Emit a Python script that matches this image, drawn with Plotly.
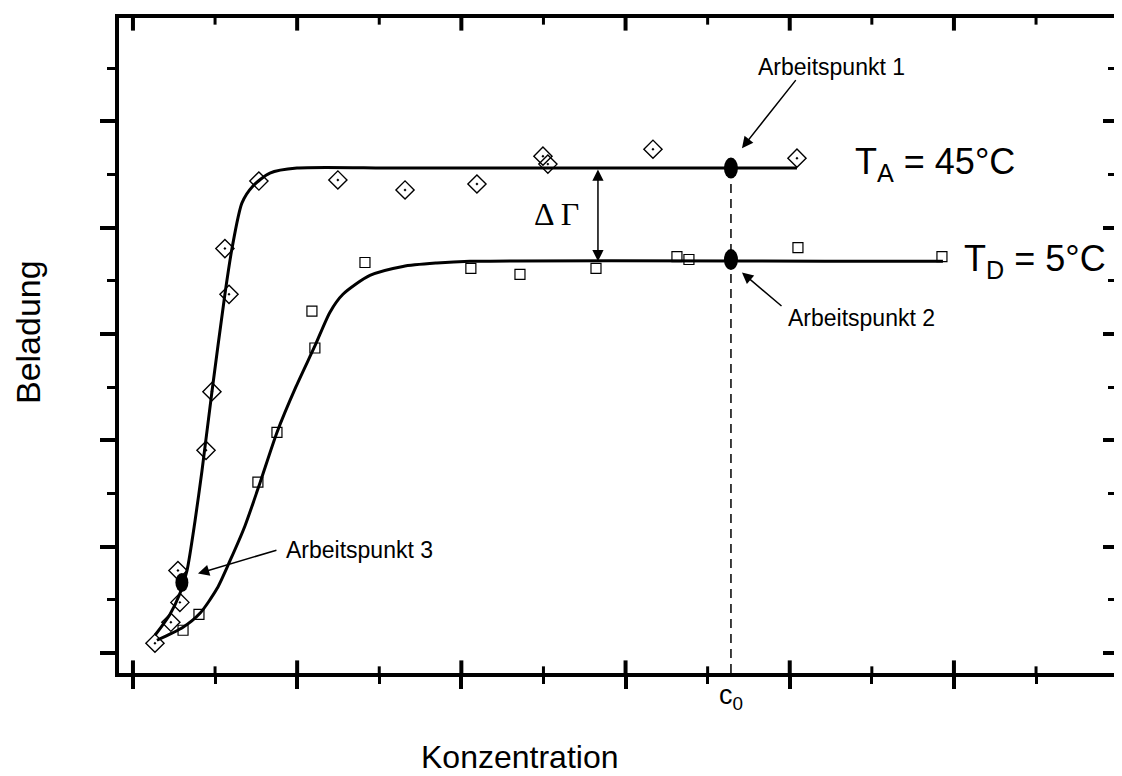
import plotly.graph_objects as go

# ---------------- data (axis units: one major tick = 1) ----------------
diamond_x = [0.134, 0.231, 0.286, 0.274, 0.445, 0.481, 0.585, 0.560, 0.767,
             1.248, 1.657, 2.095, 2.497, 2.527, 3.167, 4.044]
diamond_y = [0.093, 0.290, 0.477, 0.776, 1.907, 2.458, 3.374, 3.804, 4.439,
             4.449, 4.355, 4.411, 4.673, 4.598, 4.738, 4.654]

square_x = [0.305, 0.402, 0.761, 0.877, 1.090, 1.108, 1.413, 2.058, 2.357,
            2.820, 3.313, 3.386, 4.050, 4.927]
square_y = [0.215, 0.364, 1.607, 2.075, 3.215, 2.869, 3.673, 3.617, 3.561,
            3.617, 3.729, 3.701, 3.813, 3.729]

fitA_x = [0.134, 0.225, 0.286, 0.329, 0.378, 0.420, 0.481, 0.560, 0.603,
          0.664, 0.731, 0.834, 0.999, 1.626, 4.044]
fitA_y = [0.168, 0.364, 0.561, 0.776, 1.243, 1.710, 2.458, 3.374, 3.804,
          4.234, 4.393, 4.514, 4.561, 4.561, 4.561]

fitD_x = [0.146, 0.305, 0.408, 0.512, 0.591, 0.682, 0.773, 0.877, 0.993,
          1.108, 1.200, 1.279, 1.443, 1.644, 1.851, 2.052, 4.933]
fitD_y = [0.121, 0.243, 0.374, 0.607, 0.869, 1.196, 1.598, 2.075, 2.505,
          2.888, 3.206, 3.374, 3.551, 3.636, 3.668, 3.684, 3.684]

plateau_A = 4.561
plateau_D = 3.684
c0 = 3.642

op_x = [c0, c0, 0.298]
op_y = [plateau_A, 3.70, 0.664]
op_labels = ["Arbeitspunkt 1", "Arbeitspunkt 2", "Arbeitspunkt 3"]
op_label_x = [4.257, 4.434, 1.382]
op_label_y = [5.509, 3.150, 0.972]
op_arrow_tail_x = [4.044, 3.959, 0.883]
op_arrow_tail_y = [5.402, 3.252, 0.972]
op_arrow_head_x = [3.709, 3.709, 0.396]
op_arrow_head_y = [4.748, 3.579, 0.748]
op_w = [14, 14, 13]
op_h = [21, 21, 19]

delta_x = 2.832
delta_label = (2.582, 4.131)

x_range = [-0.085, 5.987]
y_range = [-0.187, 5.972]
x_major_ticks = [0, 1, 2, 3, 4, 5]
x_minor_ticks = [0.5, 1.5, 2.5, 3.5, 4.5, 5.5]

FONT = "Arial, Liberation Sans, sans-serif"

fig = go.Figure()

fig.add_trace(go.Scatter(x=fitA_x, y=fitA_y, mode="lines",
                         line=dict(color="black", width=3, shape="spline", smoothing=0.7),
                         showlegend=False, hoverinfo="skip"))
fig.add_trace(go.Scatter(x=fitD_x, y=fitD_y, mode="lines",
                         line=dict(color="black", width=3, shape="spline", smoothing=0.7),
                         showlegend=False, hoverinfo="skip"))
fig.add_trace(go.Scatter(x=diamond_x, y=diamond_y, mode="markers",
                         marker=dict(symbol="diamond-open-dot", size=14, color="black",
                                     line=dict(width=1.4, color="black")),
                         showlegend=False))
fig.add_trace(go.Scatter(x=square_x, y=square_y, mode="markers",
                         marker=dict(symbol="square-open", size=10, color="black",
                                     line=dict(width=1.2, color="black")),
                         showlegend=False))

# inward tick marks on the top and bottom frame (half of each marker is clipped
# by the plot area, so only the inner half shows)
for ticks_, size_, width_ in [(x_major_ticks, 18, 4), (x_minor_ticks, 9.5, 3)]:
    fig.add_trace(go.Scatter(
        x=ticks_ + ticks_,
        y=[y_range[1]] * len(ticks_) + [y_range[0]] * len(ticks_),
        mode="markers", cliponaxis=True,
        marker=dict(symbol="line-ns", size=size_, color="black",
                    line=dict(width=width_, color="black")),
        showlegend=False, hoverinfo="skip"))

# invisible helper trace so that the right-hand tick axis gets drawn
fig.add_trace(go.Scatter(x=x_range, y=y_range, xaxis="x", yaxis="y2", mode="markers",
                         marker=dict(opacity=0), showlegend=False, hoverinfo="skip"))

shapes = []
# dashed vertical line at c0
shapes.append(dict(type="line", xref="x", yref="y", x0=c0, x1=c0,
                   y0=y_range[0], y1=op_y[0],
                   line=dict(color="black", width=1.5, dash="9px,6px")))
# operating points (filled ellipses)
for i in range(3):
    shapes.append(dict(type="circle", xref="x", yref="y",
                       xsizemode="pixel", ysizemode="pixel",
                       xanchor=op_x[i], yanchor=op_y[i],
                       x0=-op_w[i] / 2, x1=op_w[i] / 2,
                       y0=-op_h[i] / 2, y1=op_h[i] / 2,
                       fillcolor="black", line=dict(width=0), layer="above"))

annotations = []
for i in range(3):
    annotations.append(dict(x=op_arrow_head_x[i], y=op_arrow_head_y[i],
                            ax=op_arrow_tail_x[i], ay=op_arrow_tail_y[i],
                            xref="x", yref="y", axref="x", ayref="y",
                            text="", showarrow=True, arrowhead=2, arrowsize=1.5,
                            arrowwidth=1.5, arrowcolor="black", standoff=0))
    annotations.append(dict(x=op_label_x[i], y=op_label_y[i], xref="x", yref="y",
                            xanchor="center", yanchor="middle",
                            text=op_labels[i], showarrow=False,
                            font=dict(family=FONT, size=23, color="black")))

# double arrow Delta Gamma
annotations.append(dict(x=delta_x, y=plateau_D, ax=delta_x, ay=plateau_A,
                        xref="x", yref="y", axref="x", ayref="y",
                        text="", showarrow=True, arrowhead=2, arrowside="end+start",
                        arrowsize=1.5, arrowwidth=1.5, arrowcolor="black", standoff=0,
                        startstandoff=0, startarrowhead=2, startarrowsize=1.5))
annotations.append(dict(x=delta_label[0], y=delta_label[1], xref="x", yref="y",
                        xanchor="center", yanchor="middle",
                        text="\u0394 \u0393", showarrow=False,
                        font=dict(family="Liberation Serif, Times New Roman, serif",
                                  size=32, color="black")))

# temperature labels
annotations.append(dict(x=4.385, y=4.60, xref="x", yref="y", xanchor="left",
                        yanchor="middle",
                        text="T<sub>A</sub> = 45°C", showarrow=False,
                        font=dict(family=FONT, size=36, color="black")))
annotations.append(dict(x=5.049, y=3.69, xref="x", yref="y", xanchor="left",
                        yanchor="middle",
                        text="T<sub>D</sub> = 5°C", showarrow=False,
                        font=dict(family=FONT, size=36, color="black")))

# c0 label
annotations.append(dict(x=c0, y=-0.036, xref="x", yref="paper",
                        xanchor="center", yanchor="middle",
                        text="c<sub>0</sub>", showarrow=False,
                        font=dict(family=FONT, size=27, color="black")))

# axis titles
annotations.append(dict(x=0.4022, y=-0.1275, xref="paper", yref="paper",
                        xanchor="center", yanchor="middle",
                        text="Konzentration", showarrow=False,
                        font=dict(family=FONT, size=32, color="black")))
annotations.append(dict(x=-0.0913, y=0.5205, xref="paper", yref="paper",
                        xanchor="center", yanchor="middle",
                        text="Beladung", showarrow=False, textangle=-90,
                        font=dict(family=FONT, size=34, color="black")))

common = dict(showgrid=False, zeroline=False, showticklabels=False,
              tickcolor="black", tick0=0, dtick=1)

fig.update_layout(
    width=1122, height=776,
    margin=dict(l=111, r=14, t=6, b=111),
    paper_bgcolor="white", plot_bgcolor="white",
    showlegend=False,
    shapes=shapes, annotations=annotations,
    xaxis=dict(range=x_range, showline=True, linewidth=4, linecolor="black", mirror=True,
               ticks="outside", ticklen=12, tickwidth=4,
               minor=dict(tick0=0, dtick=0.5, ticks="outside", ticklen=7, tickwidth=3,
                          tickcolor="black"),
               **common),
    yaxis=dict(range=y_range, showline=True, linewidth=4, linecolor="black", mirror=True,
               ticks="outside", ticklen=15, tickwidth=4,
               minor=dict(tick0=0, dtick=0.5, ticks="outside", ticklen=8, tickwidth=3,
                          tickcolor="black"),
               **common),
    yaxis2=dict(range=y_range, overlaying="y", anchor="x", side="right", showline=False,
                ticks="inside", ticklen=13, tickwidth=4,
                minor=dict(tick0=0, dtick=0.5, ticks="inside", ticklen=8, tickwidth=3,
                           tickcolor="black"),
                **common),
)

fig.write_html("out.html")
